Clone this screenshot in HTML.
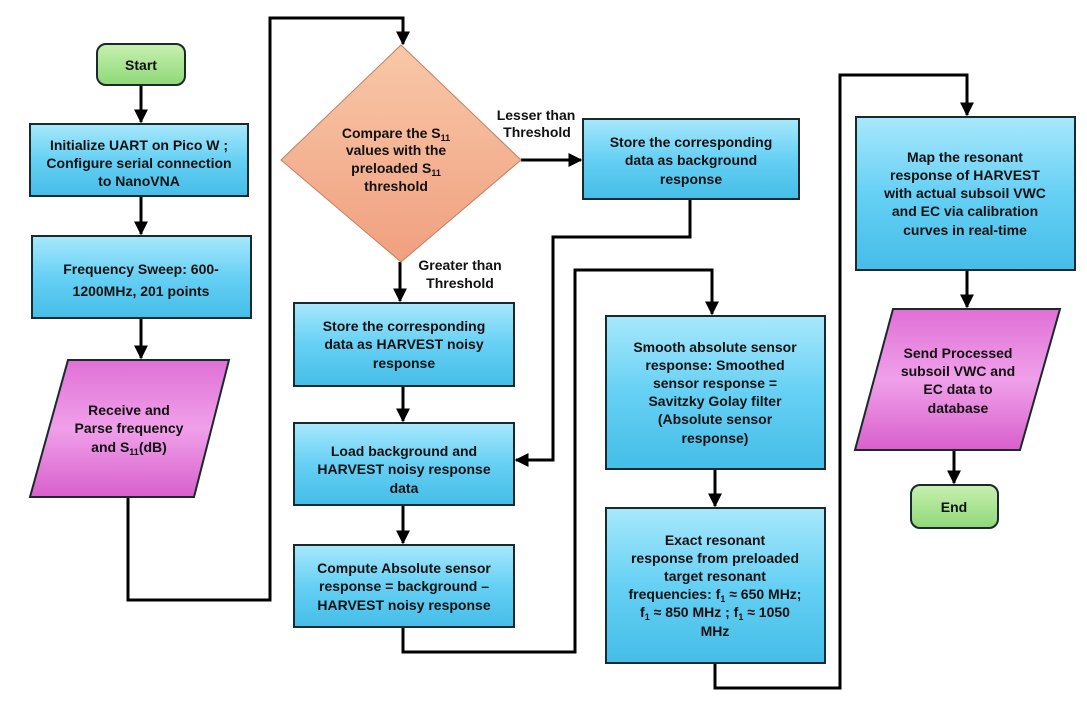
<!DOCTYPE html>
<html><head><meta charset="utf-8"><style>
body{margin:0;background:#fff;}
svg text{font-family:"Liberation Sans",Arial,sans-serif;font-weight:bold;font-size:14px;fill:#111;text-anchor:middle;}
</style></head><body>
<svg width="1087" height="703" viewBox="0 0 1087 703" xmlns="http://www.w3.org/2000/svg">
<defs>
<linearGradient id="b" x1="0" y1="0" x2="0" y2="1"><stop offset="0" stop-color="#a8e8fc"/><stop offset="0.5" stop-color="#66d0f4"/><stop offset="1" stop-color="#45bde8"/></linearGradient>
<linearGradient id="g" x1="0" y1="0" x2="0" y2="1"><stop offset="0" stop-color="#c8f0b0"/><stop offset="1" stop-color="#8fd878"/></linearGradient>
<linearGradient id="p" x1="0" y1="0" x2="0" y2="1"><stop offset="0" stop-color="#e070d6"/><stop offset="0.5" stop-color="#f0a0ea"/><stop offset="1" stop-color="#d860cc"/></linearGradient>
<linearGradient id="o" x1="0" y1="0" x2="0" y2="1"><stop offset="0" stop-color="#f8c8a8"/><stop offset="1" stop-color="#f0a080"/></linearGradient>
<marker id="ah" viewBox="0 0 10 10" markerWidth="14" markerHeight="14" refX="9" refY="5" orient="auto" markerUnits="userSpaceOnUse"><path d="M0,0 L10,5 L0,10 z" fill="#000"/></marker>
</defs>
<g fill="none" stroke="#000" stroke-width="3">
<path d="M141,85 V122" marker-end="url(#ah)"/>
<path d="M141,196 V234" marker-end="url(#ah)"/>
<path d="M141,318 V358" marker-end="url(#ah)"/>
<path d="M128,497 V600 H270 V18 H403 V44" marker-end="url(#ah)"/>
<path d="M521,160 H581" marker-end="url(#ah)"/>
<path d="M400,262 V301" marker-end="url(#ah)"/>
<path d="M403,386 V421" marker-end="url(#ah)"/>
<path d="M403,505 V543" marker-end="url(#ah)"/>
<path d="M690,199 V237 H553 V460 H516" marker-end="url(#ah)"/>
<path d="M403,627 V652 H575 V270 H712 V314" marker-end="url(#ah)"/>
<path d="M715,469 V506" marker-end="url(#ah)"/>
<path d="M715,663 V688 H840 V75 H967 V115" marker-end="url(#ah)"/>
<path d="M967,270 V307" marker-end="url(#ah)"/>
<path d="M954,450 V483" marker-end="url(#ah)"/>
</g>
<g stroke="#1a2a2a" stroke-width="2">
<rect x="97" y="44" width="88" height="41" rx="9" fill="url(#g)"/>
<rect x="911" y="485" width="87" height="43" rx="9" fill="url(#g)"/>
<rect x="30" y="124" width="218" height="72" fill="url(#b)"/>
<rect x="32" y="236" width="219" height="82" fill="url(#b)"/>
<rect x="583" y="119" width="216" height="80" fill="url(#b)"/>
<rect x="294" y="303" width="220" height="83" fill="url(#b)"/>
<rect x="294" y="423" width="220" height="82" fill="url(#b)"/>
<rect x="294" y="545" width="220" height="82" fill="url(#b)"/>
<rect x="606" y="316" width="219" height="153" fill="url(#b)"/>
<rect x="606" y="508" width="219" height="155" fill="url(#b)"/>
<rect x="856" y="117" width="219" height="153" fill="url(#b)"/>
<polygon points="68,360 229,360 194,497 30,497" fill="url(#p)"/>
<polygon points="893,309 1060,309 1020,450 855,450" fill="url(#p)"/>
<polygon points="401,45 521,160 401,262 281,160" fill="url(#o)" stroke="#c08060" stroke-width="1"/>
</g>
<text x="141" y="70">Start</text>
<text x="954" y="512">End</text>
<text x="139" y="150">Initialize UART on Pico W ;</text>
<text x="139" y="168">Configure serial connection</text>
<text x="139" y="186">to NanoVNA</text>
<text x="141" y="274">Frequency Sweep: 600-</text>
<text x="141" y="296">1200MHz, 201 points</text>
<text x="129" y="415">Receive and</text>
<text x="129" y="433">Parse frequency</text>
<text x="129" y="452">and S<tspan font-size="9" dy="3">11</tspan><tspan dy="-3">(dB)</tspan></text>
<text x="396" y="138">Compare the S<tspan font-size="9" dy="3">11</tspan></text>
<text x="396" y="155">values with the</text>
<text x="396" y="173">preloaded S<tspan font-size="9" dy="3">11</tspan></text>
<text x="396" y="191">threshold</text>
<text x="536" y="120">Lesser than</text>
<text x="537" y="137">Threshold</text>
<text x="460" y="270">Greater than</text>
<text x="460" y="288">Threshold</text>
<text x="691" y="147">Store the corresponding</text>
<text x="691" y="165">data as background</text>
<text x="691" y="184">response</text>
<text x="404" y="331">Store the corresponding</text>
<text x="404" y="349">data as HARVEST noisy</text>
<text x="404" y="368">response</text>
<text x="404" y="456">Load background and</text>
<text x="404" y="474">HARVEST noisy response</text>
<text x="404" y="493">data</text>
<text x="404" y="573">Compute Absolute sensor</text>
<text x="404" y="591">response = background –</text>
<text x="404" y="610">HARVEST noisy response</text>
<text x="715" y="352">Smooth absolute sensor</text>
<text x="715" y="370">response: Smoothed</text>
<text x="715" y="388">sensor response =</text>
<text x="715" y="406">Savitzky Golay filter</text>
<text x="715" y="424">(Absolute sensor</text>
<text x="715" y="443">response)</text>
<text x="715" y="545">Exact resonant</text>
<text x="715" y="563">response from preloaded</text>
<text x="715" y="581">target resonant</text>
<text x="715" y="599">frequencies: f<tspan font-size="9" dy="3">1</tspan><tspan dy="-3"> ≈ 650 MHz;</tspan></text>
<text x="715" y="617">f<tspan font-size="9" dy="3">1</tspan><tspan dy="-3"> ≈ 850 MHz ; f</tspan><tspan font-size="9" dy="3">1</tspan><tspan dy="-3"> ≈ 1050</tspan></text>
<text x="715" y="636">MHz</text>
<text x="965" y="162">Map the resonant</text>
<text x="965" y="180">response of HARVEST</text>
<text x="965" y="198">with actual subsoil VWC</text>
<text x="965" y="216">and EC via calibration</text>
<text x="965" y="235">curves in real-time</text>
<text x="958" y="358">Send Processed</text>
<text x="958" y="376">subsoil VWC and</text>
<text x="958" y="394">EC data to</text>
<text x="958" y="413">database</text>
</svg>
</body></html>
